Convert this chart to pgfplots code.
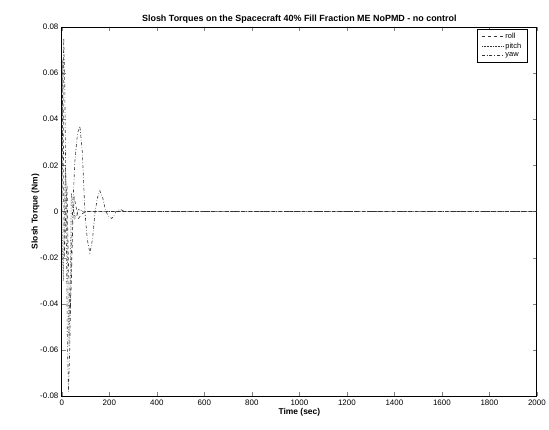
\documentclass[border=0pt]{standalone}
\usepackage{fontspec}
\setmainfont{Liberation Sans}
\usepackage{pgfplots}
\pgfplotsset{compat=1.18}
\begin{document}
\begin{tikzpicture}
\begin{axis}[
    name=ax,
    scale only axis,
    width=476bp, height=370bp,
    xmin=0, xmax=2000, ymin=-0.08, ymax=0.08,
    xtick={0,200,...,2000},
    ytick={-0.08,-0.06,...,0.08},
    scaled x ticks=false, scaled y ticks=false,
    yticklabel style={/pgf/number format/fixed, /pgf/number format/precision=2},
    xticklabel style={/pgf/number format/set thousands separator={}},
    /pgf/number format/assume math mode=true,
    tick align=inside,
    axis line style={line width=0.8pt},
    tick label style={font=\fontsize{8}{9}\selectfont},
    title={\textbf{Slosh Torques on the Spacecraft  40\% Fill Fraction ME NoPMD -  no control}},
    title style={font=\fontsize{9}{10}\selectfont, yshift=-6bp},
    xlabel={\textbf{Time (sec)}},
    ylabel={\textbf{Slosh Torque (Nm)}},
    label style={font=\fontsize{8.5}{10}\selectfont},
    xlabel style={yshift=4bp},
    ylabel style={yshift=-6bp},
    legend style={at={(0.98,0.995)}, anchor=north east,
        font=\fontsize{7.5}{8}\selectfont, draw=black, inner xsep=4pt, inner ysep=2pt,
        legend cell align=left, row sep=-1pt},
    legend image code/.code={\draw[#1] (0cm,0cm) -- (0.75cm,0cm);},
    legend image post style={line width=0.6pt},
    every axis plot/.append style={black!80, line width=0.6pt},
]

% roll
\addplot[dashed] coordinates {
(0,0) (2,0.040) (4,0.066) (6,0.040) (8,0.005) (10,-0.020) (14,-0.010) (18,0.008)
(22,0.010) (26,-0.015) (32,-0.040) (35,-0.045) (40,-0.030) (46,-0.005) (52,0.006)
(60,0.002) (70,-0.003) (85,-0.001) (100,0) (2000,0)
};
\addlegendentry{roll}

% pitch
\addplot[densely dotted] coordinates {
(0,0) (3,-0.020) (6,-0.030) (10,-0.005) (15,0.020) (20,0.005) (25,-0.030)
(30,-0.058) (34,-0.040) (40,0.008) (46,0.004) (55,-0.003) (70,0.001) (90,0) (2000,0)
};
\addlegendentry{pitch}

% yaw
\addplot[dash dot] coordinates {
(0,0) (4,0.050) (8,0.075) (12,0.055) (18,0) (23,-0.055) (28,-0.078) (33,-0.060)
(40,-0.020) (45,0) (55,0.022) (66,0.034) (76,0.037) (86,0.026) (97,0)
(107,-0.012) (118,-0.018) (129,-0.012) (140,0) (150,0.006) (160,0.009) (172,0.006)
(185,0) (197,-0.002) (210,-0.003) (220,-0.0015) (228,0) (245,0.001) (265,0)
(2000,0)
};
\addlegendentry{yaw}
\end{axis}
\path ([xshift=-62bp,yshift=-33bp]ax.south west) rectangle ([xshift=11bp,yshift=27bp]ax.north east);
\end{tikzpicture}
\end{document}
